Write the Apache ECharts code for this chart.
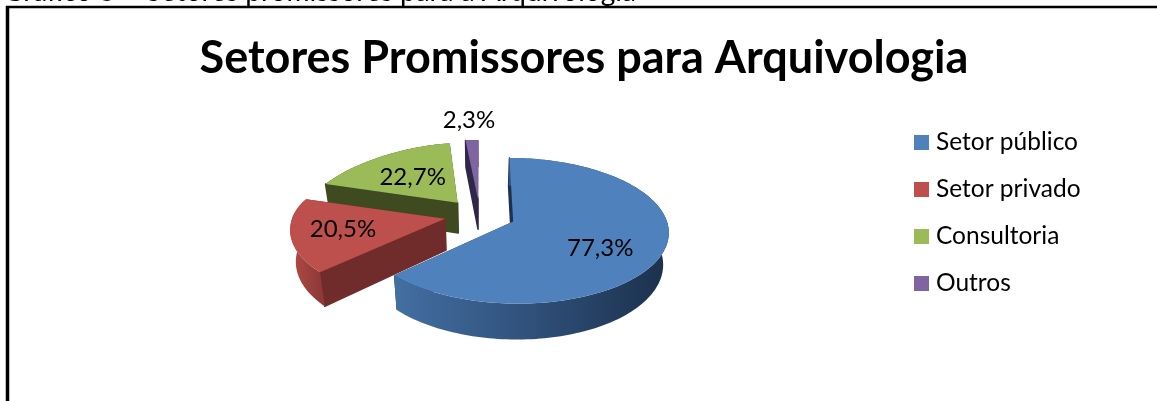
<!DOCTYPE html>
<html>
<head>
<meta charset="utf-8">
<style>html,body{margin:0;padding:0;background:#fff}#c{width:1157px;height:401px}</style>
<script src="https://cdn.jsdelivr.net/npm/echarts@6/dist/echarts.min.js"></script>
</head>
<body>
<div id="c"></div>
<script>
// ---- data ----
const categories = ['Setor público', 'Setor privado', 'Consultoria', 'Outros'];
const values = [77.3, 20.5, 22.7, 2.3];

// ---- styles ----
const topColors = ['#4f81bd', '#bd4f4c', '#9bbb59', '#8064a2'];
const cutColors = ['#1c3250', '#6f2c2b', '#3f4a20', '#30264a'];
const wallStops = [
  [[0, '#436fa2'], [0.5, '#30507a'], [1, '#1b304c']],
  [[0, '#b34a47'], [1, '#8f3a37']],
  [[0, '#3f4a20'], [1, '#3f4a20']],
  [[0, '#30264a'], [1, '#30264a']]
];
const labelOffsets = [[87, 27], [-102, 10], [-45, -25], [-9, -79]];
const font = 'Lato, "Open Sans", sans-serif';

// ---- projection of the exploded, tilted disc ----
const cx = 480, cy = 215, R = 152, Ry = 70, persp = 0.125, backLeft = 0.15, depth = 31, shrink = 0.03, explode = 0.235;
const total = values.reduce((a, b) => a + b, 0);
function project(u, v, h) {
  const s = 1 / (1 - persp * v);
  const sx = (v < 0 && u < 0) ? 1 / (1 - persp * v + backLeft * v * v) : s;
  return [cx + R * u * sx * (1 - shrink * h), cy + (Ry * v + depth * h) * s];
}
const slices = [];
let acc = 0;
values.forEach(function (val) {
  const a0 = acc / total * 2 * Math.PI;
  acc += val;
  const a1 = acc / total * 2 * Math.PI;
  slices.push({ a0: a0, a1: a1 });
});

function renderSlice(idx) {
  return function (params, api) {
    const sl = slices[idx];
    const val = api.value(0);
    const mid = (sl.a0 + sl.a1) / 2;
    const u0 = explode * Math.sin(mid), v0 = -explode * Math.cos(mid);
    const n = Math.max(4, Math.round((sl.a1 - sl.a0) * 40));
    const topArc = [], botArc = [];
    for (let i = 0; i <= n; i++) {
      const a = sl.a0 + (sl.a1 - sl.a0) * i / n;
      const u = u0 + Math.sin(a), v = v0 - Math.cos(a);
      topArc.push(project(u, v, 0));
      botArc.push(project(u, v, 1));
    }
    const apexT = project(u0, v0, 0), apexB = project(u0, v0, 1);
    const xs = topArc.map(p => p[0]);
    const minX = Math.min.apply(null, xs), maxX = Math.max.apply(null, xs);
    const children = [];
    const cut = cutColors[idx];
    // the face on the leading edge shows; the one on the trailing edge stays under the top
    children.push({ type: 'polygon', shape: { points: [apexT, topArc[n], botArc[n], apexB] }, style: { fill: cut } });
    children.push({ type: 'polygon', shape: { points: [apexT, topArc[0], botArc[0], apexB] }, style: { fill: cut, stroke: cut, lineWidth: 1.5, lineJoin: 'round' } });
    children.push({
      type: 'polygon',
      shape: { points: topArc.concat(botArc.slice().reverse()) },
      style: {
        fill: {
          type: 'linear', global: true, x: minX, y: 0, x2: maxX, y2: 0,
          colorStops: wallStops[idx].map(s => ({ offset: s[0], color: s[1] }))
        }
      }
    });
    children.push({
      type: 'polygon',
      shape: { points: [apexT].concat(topArc) },
      style: { fill: topColors[idx] }
    });
    children.push({
      type: 'text',
      style: {
        text: val.toFixed(1).replace('.', ',') + '%',
        x: apexT[0] + labelOffsets[idx][0],
        y: apexT[1] + labelOffsets[idx][1],
        align: 'center', verticalAlign: 'middle',
        font: '24px ' + font, fill: '#000'
      }
    });
    return { type: 'group', children: children };
  };
}

const chart = echarts.init(document.getElementById('c'), null, { renderer: 'canvas' });
chart.setOption({
  animation: false,
  backgroundColor: '#fff',
  color: topColors,
  title: [
    { text: 'Setores Promissores para Arquivologia', left: 579, top: 31, textAlign: 'center',
      textStyle: { fontFamily: font, fontWeight: 'bold', fontSize: 45, color: '#000' } },
    { text: 'Gráfico 3 – Setores promissores para a Arquivologia', left: -2, top: -27,
      textStyle: { fontFamily: font, fontWeight: 'normal', fontSize: 28, color: '#000' } }
  ],
  legend: {
    orient: 'vertical', left: 909, top: 125, itemWidth: 15, itemHeight: 15, itemGap: 22,
    icon: 'rect',
    data: categories,
    textStyle: { fontFamily: font, fontSize: 24.5, lineHeight: 25, color: '#000', padding: [0, 0, 0, 2] }
  },
  graphic: [
    { type: 'line', shape: { x1: 7.5, y1: 6, x2: 7.5, y2: 401 }, style: { stroke: '#000', lineWidth: 3.5 }, z: 10 },
    { type: 'line', shape: { x1: 6, y1: 7, x2: 1157, y2: 7 }, style: { stroke: '#000', lineWidth: 2.5 }, z: 10 }
  ],
  series: categories.map(function (name, i) {
    return {
      type: 'custom', name: name, coordinateSystem: 'none',
      z: [5, 4, 3, 2][i],
      clip: false, silent: true,
      data: [[values[i]]],
      renderItem: renderSlice(i)
    };
  })
});
</script>
</body>
</html>
